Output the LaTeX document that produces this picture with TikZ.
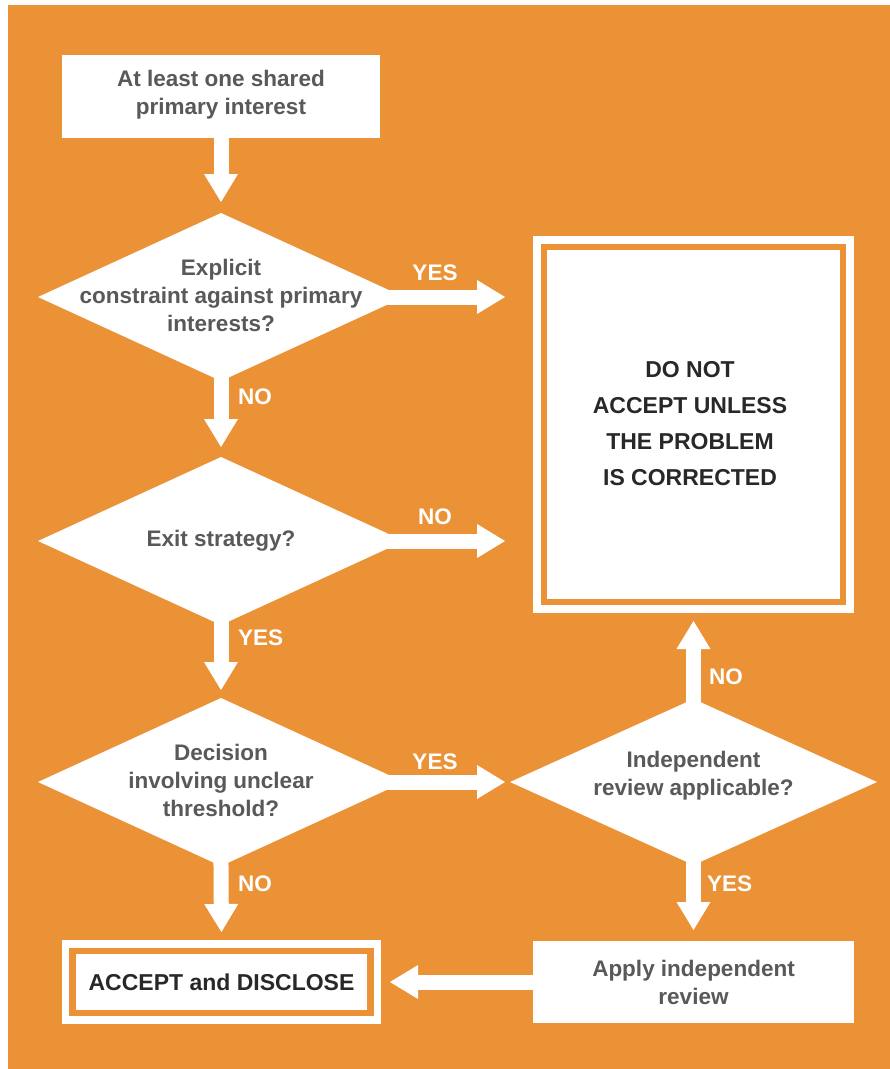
\documentclass[tikz,border=0pt]{standalone}
\usepackage{fontspec}
\setmainfont{Liberation Sans}
\usetikzlibrary{shapes.geometric,arrows.meta}
\definecolor{bgorange}{RGB}{235,146,55}
\definecolor{qgrey}{RGB}{88,89,91}
\definecolor{tdark}{RGB}{40,40,40}
\begin{document}
\begin{tikzpicture}[x=1pt,y=-1pt,
  box/.style={rectangle, fill=white, inner sep=0pt, outer sep=0pt},
  dia/.style={diamond, fill=white, inner sep=0pt, outer sep=0pt},
  qtext/.style={text=qgrey, font=\bfseries\fontsize{22.5}{28}\selectfont, align=center, inner sep=0pt},
  ttext/.style={text=tdark, font=\bfseries\fontsize{23}{36}\selectfont, align=center, inner sep=0pt},
  lab/.style={text=white, font=\bfseries\fontsize{22.5}{27}\selectfont, inner sep=0pt},
  conn/.style={draw=white, line width=15pt, -{Triangle[width=34pt,length=28pt,line width=0pt]}},
  ring/.style={draw=bgorange, line width=6.5pt}
]
\useasboundingbox (0,0) rectangle (890,1069);
\fill[white] (0,0) rectangle (890,1069);
\fill[bgorange] (8,5) rectangle (890,1069);

% nodes
\node[box, minimum width=318pt, minimum height=83pt] (top) at (221,96.5) {};
\node[qtext] (toptx) at (221,95) {At least one shared\\primary interest};

\node[dia, minimum width=366pt, minimum height=168pt] (d1) at (221,297) {};
\node[qtext] (d1tx) at (221,295) {Explicit\\constraint against primary\\interests?};

\node[dia, minimum width=366pt, minimum height=168pt] (d2) at (221,541) {};
\node[qtext] (d2tx) at (221,541) {Exit strategy?};

\node[dia, minimum width=366pt, minimum height=168pt] (d3) at (221,782) {};
\node[qtext] (d3tx) at (221,780.5) {Decision\\involving unclear\\threshold?};

\node[dia, minimum width=367pt, minimum height=166pt] (d4) at (693.5,782) {};
\node[qtext] (d4tx) at (693.5,776) {Independent\\review applicable?};

\node[box, minimum width=321pt, minimum height=377pt] (big) at (693.5,424.5) {};
\draw[ring] ([shift={(11,11)}]big.north west) rectangle ([shift={(-11,-11)}]big.south east);
\node[ttext] (bigtx) at (690,424) {DO NOT\\ACCEPT UNLESS\\THE PROBLEM\\IS CORRECTED};

\node[box, minimum width=321pt, minimum height=82pt] (apply) at (693.5,982) {};
\node[qtext] (applytx) at (693.5,982) {Apply independent\\review};

\node[box, minimum width=319pt, minimum height=84pt] (accept) at (221.5,982) {};
\draw[ring] ([shift={(10.5,11)}]accept.north west) rectangle ([shift={(-10.5,-11)}]accept.south east);
\node[ttext] (accepttx) at (221.5,982) {ACCEPT and DISCLOSE};

% connectors
\draw[conn, shorten >=11pt] (top.south) -- (d1.north);
\draw[conn, shorten <=-12pt, shorten >=10pt] (d1.south) -- (d2.north);
\draw[conn, shorten <=-12pt, shorten >=8pt] (d2.south) -- (d3.north);
\draw[conn, shorten <=-12pt, shorten >=8pt] (d3.south) -- (accept.north);
\draw[conn, shorten <=-20pt, shorten >=28pt] (d1.east) -- (d1.east -| big.west);
\draw[conn, shorten <=-20pt, shorten >=28pt] (d2.east) -- (d2.east -| big.west);
\draw[conn, shorten <=-20pt, shorten >=5pt] (d3.east) -- (d4.west);
\draw[conn, shorten <=-12pt, shorten >=8pt] (d4.north) -- (big.south);
\draw[conn, shorten <=-12pt, shorten >=11pt] (d4.south) -- (apply.north);
\draw[conn, shorten >=9pt] (apply.west) -- (accept.east);

% labels
\node[lab] (l1) at (435,273) {YES};
\node[lab] (l2) at (435,517) {NO};
\node[lab] (l3) at (435,762) {YES};
\node[lab, anchor=west] (l4) at (238,397) {NO};
\node[lab, anchor=west] (l5) at (238,638) {YES};
\node[lab, anchor=west] (l6) at (238,884) {NO};
\node[lab, anchor=west] (l7) at (709,677) {NO};
\node[lab, anchor=west] (l8) at (707,884) {YES};
\end{tikzpicture}
\end{document}
